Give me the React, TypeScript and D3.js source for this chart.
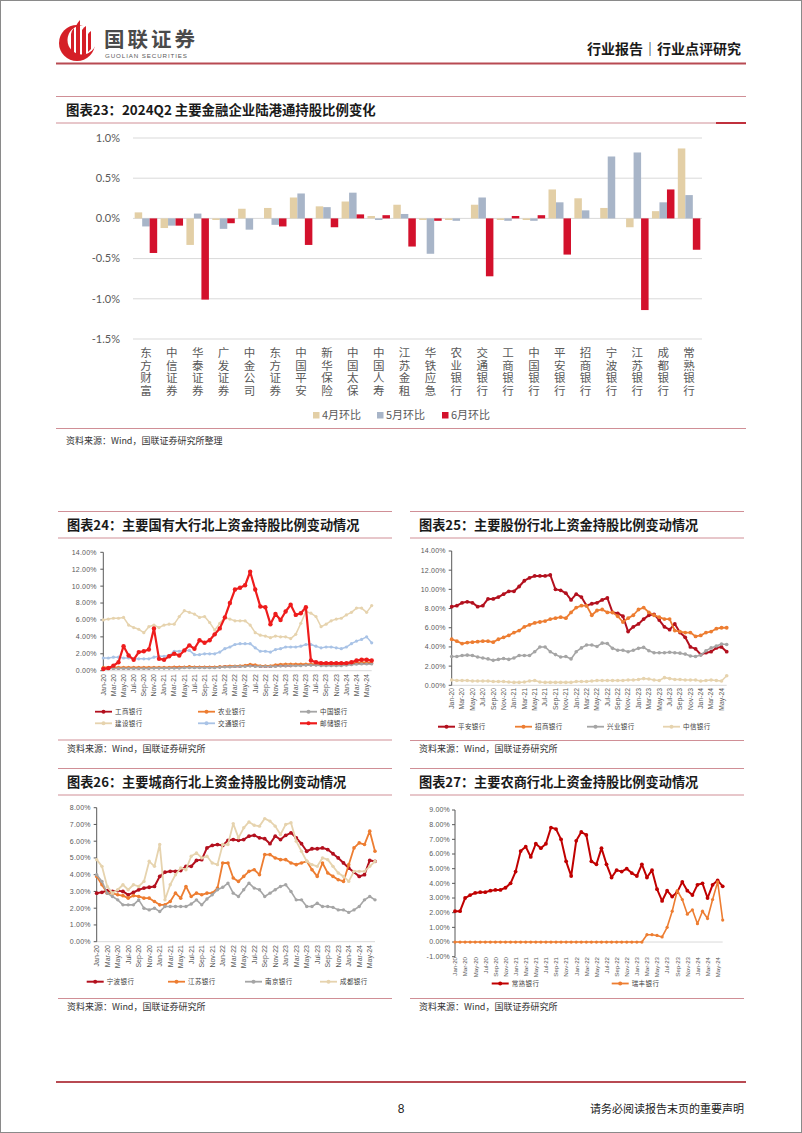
import React from 'react';
import * as d3 from 'd3';

const CJK = '"Noto Sans CJK SC", sans-serif';
const NUM = '"Liberation Sans", Arial, sans-serif';

// ---------- Chart 23 data ----------
const barCategories = ['东方财富','中信证券','华泰证券','广发证券','中金公司','东方证券','中国平安','新华保险','中国太保','中国人寿','江苏金租','华铁应急','农业银行','交通银行','工商银行','中国银行','平安银行','招商银行','宁波银行','江苏银行','成都银行','常熟银行'];
const barApr = [0.075,-0.12,-0.33,-0.02,0.12,0.13,0.26,0.15,0.21,0.03,0.17,-0.02,-0.02,0.17,-0.02,-0.02,0.36,0.25,0.13,-0.11,0.09,0.87];
const barMay = [-0.1,-0.09,0.06,-0.13,-0.14,-0.08,0.31,0.14,0.32,-0.02,0.055,-0.44,-0.03,0.26,-0.03,-0.03,0.2,0.1,0.77,0.82,0.2,0.29];
const barJun = [-0.43,-0.09,-1.01,-0.06,0,-0.1,-0.33,-0.11,0.05,0.04,-0.35,-0.03,0,-0.72,0.03,0.04,-0.45,0,0,-1.14,0.36,-0.39];
const barTicks = [1.0, 0.5, 0, -0.5, -1.0, -1.5];
const barSeriesNames = ['4月环比', '5月环比', '6月环比'];
const barColors = ['#e3cfa6', '#a8b5c8', '#d3112c'];

// ---------- month axis ----------
const months = [
  'Jan-20','Feb-20','Mar-20','Apr-20','May-20','Jun-20','Jul-20','Aug-20','Sep-20','Oct-20','Nov-20','Dec-20',
  'Jan-21','Feb-21','Mar-21','Apr-21','May-21','Jun-21','Jul-21','Aug-21','Sep-21','Oct-21','Nov-21','Dec-21',
  'Jan-22','Feb-22','Mar-22','Apr-22','May-22','Jun-22','Jul-22','Aug-22','Sep-22','Oct-22','Nov-22','Dec-22',
  'Jan-23','Feb-23','Mar-23','Apr-23','May-23','Jun-23','Jul-23','Aug-23','Sep-23','Oct-23','Nov-23','Dec-23',
  'Jan-24','Feb-24','Mar-24','Apr-24','May-24','Jun-24'
];

// ---------- Chart 24 ----------
const gongshang24 = [0.3,0.3,0.3,0.3,0.3,0.3,0.3,0.3,0.3,0.3, 0.35,0.35,0.35,0.35,0.4,0.4,0.4,0.45,0.4,0.4, 0.4,0.4,0.4,0.45,0.5,0.5,0.5,0.5,0.55,0.6,0.55,0.5,0.5,0.5,0.55,0.6,0.6,0.6,0.65,0.65, 0.7,0.7,0.7,0.7,0.7,0.7,0.7,0.7,0.75,0.8,0.85,0.85,0.85,0.85];
const nongye24 = [0.4,0.4,0.4,0.4,0.4,0.4,0.4,0.4,0.4,0.4, 0.4,0.4,0.4,0.4,0.45,0.45,0.45,0.5,0.45,0.45, 0.45,0.45,0.45,0.5,0.5,0.55,0.55,0.6,0.65,0.75,0.7,0.6,0.6,0.6,0.7,0.75,0.8,0.8,0.8,0.8, 0.8,0.8,0.8,0.8,0.8,0.8,0.8,0.8,0.85,0.9,0.95,1.0,1.0,0.95];
const zhongguo24 = [0.25,0.25,0.25,0.25,0.25,0.25,0.25,0.25,0.25,0.25, 0.3,0.3,0.3,0.3,0.3,0.3,0.35,0.35,0.35,0.35, 0.35,0.35,0.35,0.4,0.45,0.45,0.5,0.5,0.5,0.55,0.5,0.5,0.5,0.5,0.5,0.55,0.55,0.6,0.6,0.6, 0.65,0.65,0.65,0.6,0.6,0.6,0.6,0.6,0.65,0.7,0.75,0.8,0.8,0.8];
const jianshe24 = [6.0,6.1,6.2,6.2,6.3, 5.4,5.1,4.9,4.5,5.2, 5.4,5.1,5.4,5.5,5.5, 6.4,7.1,6.9,6.7,6.3, 6.4,5.7,4.8,5.6,6.3, 6.1,5.9,5.9,5.9,5.4, 4.5,4.2,4.1,3.9,4.1, 4.0,4.0,3.8,4.3,5.6, 7.0,6.8,6.4,5.2,5.5, 5.9,6.1,6.2,6.6,6.9, 7.4,7.4,6.9,7.7];
const jiaotong24 = [1.5,1.5,1.6,1.6,1.5,1.5,1.4,1.4,1.4,1.4, 1.6,1.7,1.7,1.8,2.3,2.3,2.4,2.4,1.9,1.9, 2.0,2.0,2.0,2.2,2.6,2.8,3.1,3.2,3.2,3.2, 2.7,2.3,2.3,2.2,2.5,2.6,2.8,2.8,2.8,2.9, 3.1,3.1,2.9,2.7,2.8,2.8,2.7,2.6,2.8,3.2, 3.5,3.7,4.0,3.3];
const youchu24 = [0.2,0.3,0.6,1.0,2.9,1.8,1.3,2.2,2.3,2.5, 5.0,1.4,1.3,1.7,2.0,1.8,2.4,3.0,2.6,3.6, 3.3,3.6,4.3,5.0,6.3,8.0,9.6,9.8,10.1,11.7, 9.6,7.6,7.5,5.5,6.7,6.0,7.0,7.8,6.6,6.8, 7.5,1.2,1.0,0.9,0.9,0.9,0.9,0.9,0.9,1.0, 1.2,1.3,1.3,1.2];

// ---------- Chart 25 ----------
const pingan25 = [8.2,8.3,8.6,8.7,8.6,8.2,8.3,9.0,9.0,9.2, 9.5,9.8,9.8,10.3,10.9,11.2,11.4,11.4,11.4,11.5, 10.0,9.9,9.6,8.9,9.5,9.2,8.3,8.5,8.6,8.9, 9.1,7.6,7.5,7.2,5.6,6.1,6.4,6.9,7.3,7.4, 6.8,6.1,5.8,6.4,5.5,5.0,4.0,3.8,3.2,3.4, 3.5,3.9,4.0,3.5];
const zhaoshang25 = [4.8,4.6,4.35,4.45,4.5,4.55,4.6,4.6,4.5,4.8, 5.0,5.2,5.5,5.7,6.1,6.3,6.5,6.6,6.7,6.9, 7.0,7.1,7.0,7.6,8.1,8.3,8.3,7.3,7.8,7.9, 7.6,7.6,7.2,6.6,7.0,7.3,7.9,8.1,7.6,7.3, 7.1,6.9,6.9,5.7,5.6,5.5,5.5,5.1,5.2,5.5, 5.6,5.9,6.0,6.0];
const xingye25 = [3.0,3.0,3.1,3.15,3.1,2.95,2.85,2.75,2.6,2.7, 2.8,2.7,2.85,3.1,3.1,3.1,3.5,4.0,4.0,3.5, 3.2,2.95,3.0,2.75,3.5,3.9,4.2,4.2,4.05,4.4, 4.35,3.85,3.65,3.65,3.5,3.65,3.85,3.95,3.6,3.4, 3.4,3.4,3.45,3.4,3.35,3.25,3.05,3.0,3.15,3.6, 3.9,4.1,4.3,4.25];
const zhongxin25 = [0.55,0.5,0.5,0.5,0.45,0.45,0.45,0.45,0.4,0.4, 0.4,0.35,0.3,0.3,0.35,0.45,0.5,0.35,0.3,0.3, 0.3,0.3,0.3,0.3,0.4,0.4,0.4,0.45,0.5,0.5, 0.5,0.5,0.5,0.5,0.55,0.55,0.6,0.7,0.65,0.55, 0.5,0.8,0.7,0.6,0.6,0.55,0.55,0.55,0.45,0.5, 0.55,0.5,0.45,1.0];

// ---------- Chart 26 ----------
const ningbo26 = [2.9,2.95,3.05,3.0,3.05,3.0,2.8,2.95,3.1,3.2, 3.25,3.3,3.9,4.15,4.2,4.2,4.25,4.5,4.5,4.85, 4.9,5.6,5.75,5.8,5.75,6.05,6.1,6.05,6.1,6.3, 6.35,6.2,6.15,5.85,6.3,6.1,6.35,6.5,6.2,5.85, 5.4,5.55,5.55,5.6,5.5,5.25,5.0,4.7,4.4,4.15, 3.9,4.0,4.85,4.8];
const jiangsu26 = [3.9,3.4,2.9,2.9,2.8,2.75,2.6,2.75,2.7,2.6, 2.6,2.4,2.2,2.2,2.4,2.9,2.6,3.3,2.7,2.9, 2.8,2.9,2.9,3.2,4.7,4.7,3.8,3.6,3.9,4.2, 4.3,4.0,5.2,5.2,5.0,4.9,4.9,4.7,4.6,4.7, 4.8,4.3,3.9,4.7,4.1,3.9,3.7,3.6,4.6,5.6, 5.9,5.8,6.6,5.4];
const nanjing26 = [4.0,3.6,2.9,2.7,2.5,2.2,2.2,2.2,2.5,2.0, 1.9,2.0,1.8,2.1,2.1,2.1,2.1,2.1,2.25,2.5, 2.2,2.55,2.8,3.1,3.25,3.5,2.9,2.7,3.1,3.5, 3.2,3.1,2.7,2.9,3.1,3.3,3.4,3.0,2.5,2.5, 2.1,2.1,2.3,2.1,2.1,2.05,1.9,1.9,1.75,1.9, 2.1,2.5,2.7,2.5];
const chengdu26 = [4.9,4.5,3.3,2.9,3.1,3.4,3.1,3.4,3.3,3.6, 4.8,4.5,5.8,2.5,3.4,4.0,4.4,4.3,5.1,5.3, 5.0,5.1,4.7,4.6,5.8,5.8,7.05,6.2,6.8,7.15, 6.95,6.9,7.35,7.2,6.9,6.4,7.0,7.1,6.0,5.4, 4.8,4.6,4.5,5.0,4.9,4.5,4.1,3.9,3.6,4.2, 4.2,4.2,4.5,4.8];

// ---------- Chart 27 ----------
const changshu27 = [2.1,2.1,3.0,3.2,3.35,3.4,3.4,3.5,3.55,3.55, 3.7,4.0,4.8,6.2,6.5,5.8,6.7,6.4,6.7,7.8, 7.7,7.0,5.5,4.5,6.9,7.5,7.3,5.5,5.3,6.4, 5.3,4.4,4.9,4.8,5.0,4.7,4.5,5.3,4.4,4.9, 3.6,2.8,3.5,3.1,3.4,4.1,3.5,3.2,3.9,4.0, 3.0,3.9,4.2,3.8];
const ruifeng27 = [0,0,0,0,0,0,0,0,0,0, 0,0,0,0,0,0,0,0,0,0, 0,0,0,0,0,0,0,0,0,0, 0,0,0,0,0,0,0,0,0.5,0.5, 0.45,0.35,1.0,2.1,3.5,2.9,1.9,2.2,1.25,2.1, 1.6,2.9,4.1,1.5];

const ticks0to14 = [0, 2, 4, 6, 8, 10, 12, 14];
const ticks0to8 = [0, 1, 2, 3, 4, 5, 6, 7, 8];
const ticksM1to9 = [-1, 0, 1, 2, 3, 4, 5, 6, 7, 8, 9];

const DARK = '#b3101e';
const RED = '#ee1c1c';
const ORANGE = '#ed7d31';
const GRAY = '#a5a5a5';
const BEIGE = '#e6d3ae';
const LBLUE = '#a9c3e6';

type Series = { name: string; color: string; values: number[]; width: number; r: number };
type LegendItem = { name: string; color: string; x: number; y: number; width: number; r: number };

function LineChart(props: {
  x0: number; x1: number; yTop: number; yBot: number; domain: [number, number];
  ticks: number[]; labelRight: number; xLabelTop: number; xLabelSize: number; series: Series[]; legend: LegendItem[];
}) {
  const { x0, x1, yTop, yBot, domain, ticks, labelRight, xLabelTop, xLabelSize, series, legend } = props;
  const x = d3.scalePoint<string>().domain(months).range([x0, x1]);
  const y = d3.scaleLinear().domain(domain).range([yBot, yTop]);
  const line = d3.line<number>().x((_, i) => x(months[i]) as number).y((v) => y(v));
  return (
    <g>
      <line x1={x0} x2={x1} y1={y(0)} y2={y(0)} stroke="#d9d9d9" strokeWidth={1} />
      <line x1={x0} x2={x0} y1={yTop} y2={yBot} stroke="#595959" strokeWidth={1} />
      {ticks.map((t) => (
        <g key={t}>
          <line x1={x0 - 3} x2={x0} y1={y(t)} y2={y(t)} stroke="#595959" strokeWidth={1} />
          <text x={labelRight} y={y(t)} dy="0.35em" textAnchor="end" fontFamily={NUM} fontSize={7} fill="#595959" letterSpacing={0.2}>
            {t.toFixed(2) + '%'}
          </text>
        </g>
      ))}
      {months.map((m, i) => i % 2 === 0 ? (
        <text key={m} transform={`translate(${(x(m) as number) + 2.3},${xLabelTop}) rotate(-90)`} textAnchor="end"
          fontFamily={NUM} fontSize={xLabelSize} fill="#595959">{m}</text>
      ) : null)}
      {series.map((s) => (
        <g key={s.name}>
          <path d={line(s.values) || ''} fill="none" stroke={s.color} strokeWidth={s.width} strokeLinejoin="round" />
          {s.values.map((v, i) => (
            <circle key={i} cx={x(months[i]) as number} cy={y(v)} r={s.r} fill={s.color} />
          ))}
        </g>
      ))}
      {legend.map((l) => (
        <g key={l.name}>
          <line x1={l.x} x2={l.x + 17} y1={l.y} y2={l.y} stroke={l.color} strokeWidth={l.width} />
          <circle cx={l.x + 8.5} cy={l.y} r={l.r + 0.4} fill={l.color} />
          <text x={l.x + 20} y={l.y} dy="0.35em" fontFamily={CJK} fontSize={6.5} fill="#404040" letterSpacing={0.4}>{l.name}</text>
        </g>
      ))}
    </g>
  );
}

function BarChart() {
  const x = d3.scaleBand<string>().domain(barCategories).range([133, 702]).paddingInner(0.13).paddingOuter(0.065);
  const sub = d3.scaleBand<string>().domain(barSeriesNames).range([0, x.bandwidth()]);
  const y = d3.scaleLinear().domain([-1.5, 1.0]).range([339, 138]);
  const all = [barApr, barMay, barJun];
  const legendX = [313, 377, 442];
  return (
    <g>
      {barTicks.map((t) => (
        <g key={t}>
          <line x1={133} x2={702} y1={y(t)} y2={y(t)} stroke="#d9d9d9" strokeWidth={1} />
          <text x={120} y={y(t)} dy="0.35em" textAnchor="end" fontFamily="Lato, sans-serif" fontSize={11} fill="#595959">
            {t.toFixed(1) + '%'}
          </text>
        </g>
      ))}
      {barCategories.map((c, ci) => (
        <g key={c}>
          {all.map((vals, si) => {
            const v = vals[ci];
            const bx = (x(c) as number) + (sub(barSeriesNames[si]) as number);
            return (
              <rect key={si} x={bx} width={sub.bandwidth()} y={Math.min(y(0), y(v))} height={Math.abs(y(v) - y(0))} fill={barColors[si]} />
            );
          })}
          <text x={(x(c) as number) + x.bandwidth() / 2} y={347} style={{ writingMode: 'vertical-rl' }}
            fontFamily={CJK} fontSize={11.5} letterSpacing={1} fill="#595959">{c}</text>
        </g>
      ))}
      {barSeriesNames.map((n, i) => (
        <g key={n}>
          <rect x={legendX[i]} y={412} width={6.5} height={6.5} fill={barColors[i]} />
          <text x={legendX[i] + 9} y={415.3} dy="0.35em" fontFamily={CJK} fontSize={11} fill="#595959">{n}</text>
        </g>
      ))}
    </g>
  );
}

function PanelTitle(props: { x1: number; x2: number; yTopLine: number; yBotLine: number; title: string }) {
  const { x1, x2, yTopLine, yBotLine, title } = props;
  return (
    <g>
      <line x1={x1} x2={x2} y1={yTopLine} y2={yTopLine} stroke="#d08f96" strokeWidth={1} />
      <line x1={x1} x2={x2} y1={yBotLine} y2={yBotLine} stroke="#d08f96" strokeWidth={1} />
      <text x={x1 + 9} y={(yTopLine + yBotLine) / 2} dy="0.36em" fontFamily={CJK} fontWeight={700} fontSize={13.2} fill="#1a1a1a">{title}</text>
    </g>
  );
}

function Source(props: { x1: number; x2: number; y: number; text: string }) {
  return (
    <g>
      <line x1={props.x1} x2={props.x2} y1={props.y} y2={props.y} stroke="#d08f96" strokeWidth={1} />
      <text x={props.x1 + 9} y={props.y + 8.5} dy="0.35em" fontFamily={CJK} fontSize={9} fill="#333">{props.text}</text>
    </g>
  );
}

export default function App() {
  const legendRow = (names: string[], colors: string[], xs: number[], y: number, widths: number[]): LegendItem[] =>
    names.map((n, i) => ({ name: n, color: colors[i], x: xs[i], y, width: widths[i], r: 1.6 }));

  return (
    <svg width={802} height={1133} style={{ position: 'absolute', left: 0, top: 0, background: '#fff' }}>
      <rect x={0} y={0} width={802} height={1133} fill="#fff" />
      <rect x={0.5} y={0.5} width={801} height={1132} fill="none" stroke="#8a8a8a" strokeWidth={1} />

      {/* header */}
      <g>
        <circle cx={77} cy={43} r={18} fill="#d51f27" />
        <circle cx={82} cy={40} r={14.5} fill="#fff" />
        <path d="M71 58 L71 34 Q72 30 74 28 L74 58 Z" fill="#d51f27" />
        <path d="M76 58 L76 26 Q78 22 80 20 L80 58 Z" fill="#d51f27" />
        <path d="M82 56 L82 30 Q84 27 86 26 L86 54 Z" fill="#d51f27" />
        <path d="M88 52 L88 34 Q89.5 32 91 31 L91 49 Z" fill="#d51f27" />
        <text x={104} y={46.5} fontFamily={CJK} fontWeight={700} fontSize={20.5} fill="#4a4a4a" letterSpacing={3}>国联证券</text>
        <text x={105} y={57.5} fontFamily={NUM} fontSize={6.2} fill="#5a5a5a" letterSpacing={0.9}>GUOLIAN SECURITIES</text>
        <text x={741} y={54} textAnchor="end" fontFamily={CJK} fontWeight={700} fontSize={14} fill="#1a1a1a">行业报告｜行业点评研究</text>
        <line x1={56} x2={746} y1={63.5} y2={63.5} stroke="#b84a52" strokeWidth={2} />
      </g>

      {/* chart 23 */}
      <line x1={56} x2={746} y1={96.5} y2={96.5} stroke="#d08f96" strokeWidth={1} />
      <line x1={56} x2={746} y1={123} y2={123} stroke="#d08f96" strokeWidth={1} />
      <line x1={716} x2={746} y1={123} y2={123} stroke="#c0303c" strokeWidth={2} />
      <text x={66} y={110} dy="0.36em" fontFamily={CJK} fontWeight={700} fontSize={13.4} fill="#1a1a1a">图表23：2024Q2 主要金融企业陆港通持股比例变化</text>
      <BarChart />
      <line x1={56} x2={746} y1={428.5} y2={428.5} stroke="#d08f96" strokeWidth={1} />
      <text x={66} y={441} dy="0.35em" fontFamily={CJK} fontSize={9} fill="#333">资料来源：Wind，国联证券研究所整理</text>

      {/* chart 24 */}
      <PanelTitle x1={58} x2={392} yTopLine={511.5} yBotLine={538} title="图表24：主要国有大行北上资金持股比例变动情况" />
      <LineChart x0={103.3} x1={371.7} yTop={552.3} yBot={670.7} domain={[0, 14]} ticks={ticks0to14} labelRight={96.7} xLabelTop={674} xLabelSize={7}
        series={[
          { name: '工商银行', color: DARK, values: gongshang24, width: 1.5, r: 1.5 },
          { name: '农业银行', color: ORANGE, values: nongye24, width: 1.5, r: 1.5 },
          { name: '中国银行', color: GRAY, values: zhongguo24, width: 1.5, r: 1.5 },
          { name: '建设银行', color: BEIGE, values: jianshe24, width: 1.5, r: 1.6 },
          { name: '交通银行', color: LBLUE, values: jiaotong24, width: 1.5, r: 1.6 },
          { name: '邮储银行', color: RED, values: youchu24, width: 2.2, r: 2.2 },
        ]}
        legend={[
          ...legendRow(['工商银行', '农业银行', '中国银行'], [DARK, ORANGE, GRAY], [95, 198, 300], 711.7, [1.8, 1.8, 1.8]),
          ...legendRow(['建设银行', '交通银行', '邮储银行'], [BEIGE, LBLUE, RED], [95, 198, 300], 723.3, [1.8, 1.8, 2.2]),
        ]}
      />
      <Source x1={58} x2={392} y={740} text="资料来源：Wind，国联证券研究所" />

      {/* chart 25 */}
      <PanelTitle x1={410} x2={744} yTopLine={511.5} yBotLine={538} title="图表25：主要股份行北上资金持股比例变动情况" />
      <LineChart x0={451.7} x1={726.7} yTop={551} yBot={685.3} domain={[0, 14]} ticks={ticks0to14} labelRight={445.7} xLabelTop={688} xLabelSize={6.8}
        series={[
          { name: '平安银行', color: DARK, values: pingan25, width: 2, r: 1.9 },
          { name: '招商银行', color: ORANGE, values: zhaoshang25, width: 1.8, r: 1.9 },
          { name: '兴业银行', color: GRAY, values: xingye25, width: 1.6, r: 1.8 },
          { name: '中信银行', color: BEIGE, values: zhongxin25, width: 1.6, r: 1.8 },
        ]}
        legend={legendRow(['平安银行', '招商银行', '兴业银行', '中信银行'], [DARK, ORANGE, GRAY, BEIGE], [438, 515, 587, 663], 726.7, [2, 1.8, 1.8, 1.8])}
      />
      <Source x1={410} x2={744} y={740.5} text="资料来源：Wind，国联证券研究所" />

      {/* chart 26 */}
      <PanelTitle x1={58} x2={392} yTopLine={768.5} yBotLine={795} title="图表26：主要城商行北上资金持股比例变动情况" />
      <LineChart x0={96.7} x1={375} yTop={807.7} yBot={941.7} domain={[0, 8]} ticks={ticks0to8} labelRight={90.7} xLabelTop={945} xLabelSize={7}
        series={[
          { name: '宁波银行', color: DARK, values: ningbo26, width: 2, r: 1.9 },
          { name: '江苏银行', color: ORANGE, values: jiangsu26, width: 1.8, r: 1.8 },
          { name: '南京银行', color: GRAY, values: nanjing26, width: 1.6, r: 1.7 },
          { name: '成都银行', color: BEIGE, values: chengdu26, width: 1.8, r: 1.7 },
        ]}
        legend={legendRow(['宁波银行', '江苏银行', '南京银行', '成都银行'], [DARK, ORANGE, GRAY, BEIGE], [86.7, 168, 245, 320], 981.7, [2, 1.8, 1.8, 1.8])}
      />
      <Source x1={58} x2={392} y={998.5} text="资料来源：Wind，国联证券研究所" />

      {/* chart 27 */}
      <PanelTitle x1={410} x2={744} yTopLine={768.5} yBotLine={795} title="图表27：主要农商行北上资金持股比例变动情况" />
      <LineChart x0={455} x1={722.7} yTop={810} yBot={956.7} domain={[-1, 9]} ticks={ticksM1to9} labelRight={450} xLabelTop={957} xLabelSize={6.1}
        series={[
          { name: '常熟银行', color: '#c00000', values: changshu27, width: 2, r: 1.9 },
          { name: '瑞丰银行', color: ORANGE, values: ruifeng27, width: 1.6, r: 1.6 },
        ]}
        legend={legendRow(['常熟银行', '瑞丰银行'], ['#c00000', ORANGE], [491.7, 611.7], 983.5, [2, 1.8])}
      />
      <Source x1={410} x2={744} y={998.5} text="资料来源：Wind，国联证券研究所" />

      {/* footer */}
      <line x1={56} x2={746} y1={1082} y2={1082} stroke="#b84a52" strokeWidth={2} />
      <text x={401} y={1109} dy="0.35em" textAnchor="middle" fontFamily={NUM} fontSize={12} fill="#222">8</text>
      <text x={744} y={1109} dy="0.35em" textAnchor="end" fontFamily={CJK} fontSize={11} fill="#222">请务必阅读报告末页的重要声明</text>
    </svg>
  );
}
